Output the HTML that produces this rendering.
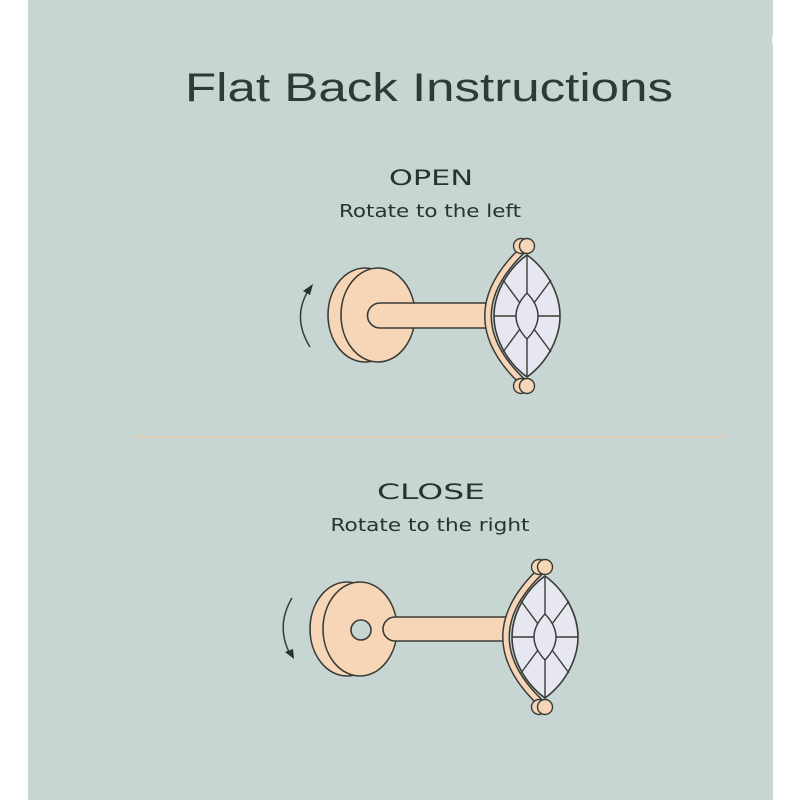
<!DOCTYPE html>
<html><head><meta charset="utf-8"><style>
html,body{margin:0;padding:0;background:#fff;}
svg{display:block;}
text{font-family:"DejaVu Sans","Liberation Sans",sans-serif;fill:#27332f;}
</style></head><body>
<svg width="800" height="800" viewBox="0 0 800 800" xmlns="http://www.w3.org/2000/svg">
<defs>
<g id="gem">
  <path d="M0,-70 Q-78,0 0,70" fill="none" stroke="#3a3a36" stroke-width="8"/>
  <path d="M0,-70 Q-78,0 0,70" fill="none" stroke="#f6d6b7" stroke-width="5"/>
  <path d="M0,-61 C22,-45 33,-20 33,0 C33,20 22,45 0,61 C-22,45 -33,20 -33,0 C-33,-20 -22,-45 0,-61Z" fill="#e6e7f0" stroke="#3a3a36" stroke-width="1.6"/>
  <path d="M0,-23 Q22,0 0,23 Q-22,0 0,-23Z" fill="#e6e7f0" stroke="#3a3a36" stroke-width="1.4"/>
  <g stroke="#3a3a36" stroke-width="1.4" fill="none">
    <line x1="0" y1="-61" x2="0" y2="-23"/>
    <line x1="0" y1="23" x2="0" y2="61"/>
    <line x1="-33" y1="0" x2="-11" y2="0"/>
    <line x1="11" y1="0" x2="33" y2="0"/>
    <line x1="-7" y1="-13" x2="-24" y2="-36"/>
    <line x1="7" y1="-13" x2="24" y2="-36"/>
    <line x1="-7" y1="13" x2="-24" y2="36"/>
    <line x1="7" y1="13" x2="24" y2="36"/>
  </g>
  <circle cx="-6" cy="-70" r="7.5" fill="#f6d6b7" stroke="#3a3a36" stroke-width="1.4"/>
  <circle cx="0" cy="-70" r="7.5" fill="#f6d6b7" stroke="#3a3a36" stroke-width="1.4"/>
  <circle cx="-6" cy="70" r="7.5" fill="#f6d6b7" stroke="#3a3a36" stroke-width="1.4"/>
  <circle cx="0" cy="70" r="7.5" fill="#f6d6b7" stroke="#3a3a36" stroke-width="1.4"/>
</g>
</defs>
<rect x="28" y="0" width="745" height="800" fill="#c7d6d2"/>
<circle cx="786" cy="40" r="14" fill="#fff"/>

<text x="429" y="101" font-size="40" text-anchor="middle" textLength="488" lengthAdjust="spacingAndGlyphs" style="font-family:'Liberation Sans',sans-serif;fill:#2e3a37">Flat Back Instructions</text>

<text x="431" y="185" font-size="21" text-anchor="middle" textLength="84" lengthAdjust="spacingAndGlyphs">OPEN</text>
<text x="430" y="217" font-size="18" text-anchor="middle" textLength="182" lengthAdjust="spacingAndGlyphs" fill="#3a4643">Rotate to the left</text>

<line x1="133" y1="437" x2="728" y2="437" stroke="#e2c9b0" stroke-width="1.5"/>

<text x="431" y="499" font-size="21" text-anchor="middle" textLength="108" lengthAdjust="spacingAndGlyphs">CLOSE</text>
<text x="430" y="531" font-size="18" text-anchor="middle" textLength="199" lengthAdjust="spacingAndGlyphs" fill="#3a4643">Rotate to the right</text>

<g stroke="#3a3a36" stroke-width="1.6">
  <ellipse cx="365" cy="315" rx="37" ry="47" fill="#f6d6b7"/>
  <ellipse cx="378" cy="315" rx="37" ry="47" fill="#f6d6b7"/>
  <path d="M488,303 L380,303 A12.5,12.5 0 0 0 380,328 L488,328" fill="#f6d6b7"/>
</g>
<use href="#gem" transform="translate(527,316)"/>
<path d="M310,347 Q292,318 308,291" fill="none" stroke="#3a3a36" stroke-width="1.5"/>
<path d="M313,284 L303,291 L310,295Z" fill="#27332f"/>

<g stroke="#3a3a36" stroke-width="1.6">
  <ellipse cx="347" cy="629" rx="37" ry="47" fill="#f6d6b7"/>
  <ellipse cx="360" cy="629" rx="37" ry="47" fill="#f6d6b7"/>
  <circle cx="361" cy="630" r="10" fill="#c7d6d2"/>
  <path d="M508,617 L395,617 A12,12 0 0 0 395,641 L508,641" fill="#f6d6b7"/>
</g>
<use href="#gem" transform="translate(545,637)"/>
<path d="M292,598 Q276,625 289,652" fill="none" stroke="#3a3a36" stroke-width="1.5"/>
<path d="M294,659 L285,652 L293,649Z" fill="#27332f"/>
</svg>
</body></html>
